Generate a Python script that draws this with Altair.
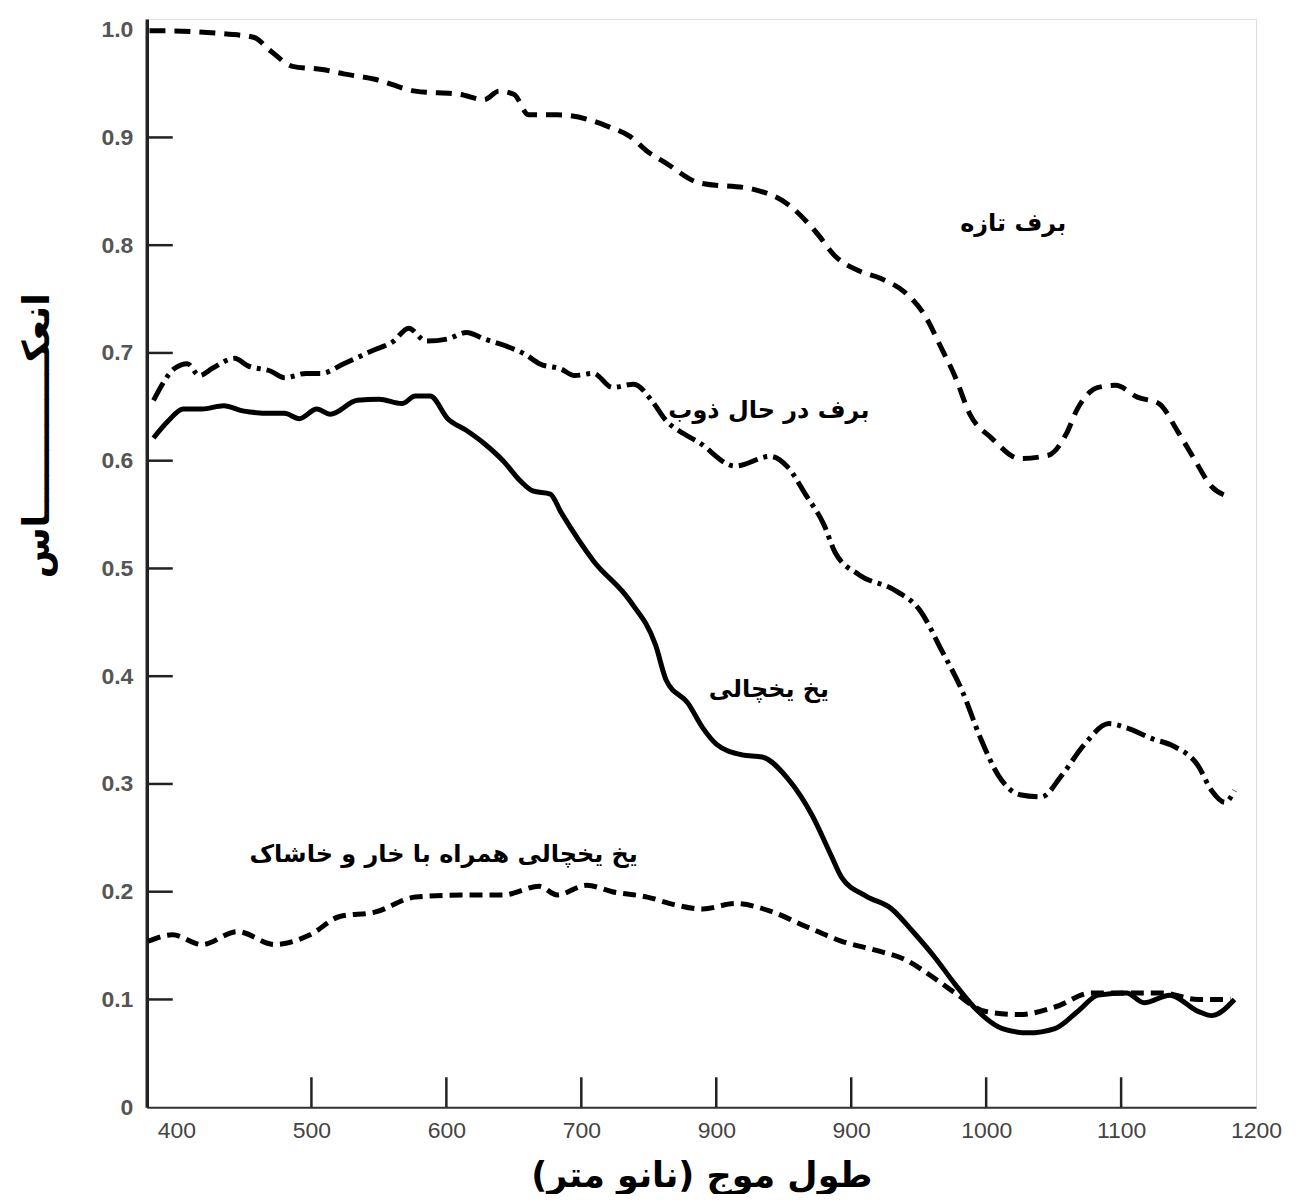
import altair as alt
import pandas as pd

# ---- data ----
fresh_nm = [380, 388, 437, 457, 470, 486, 508, 524, 547, 577, 610, 628, 639, 650, 661, 682, 704, 720, 736, 749,
            763, 787, 827, 853, 874, 888, 906, 922, 940, 954, 967, 977, 988, 1004, 1025, 1046, 1059, 1068, 1083, 1096,
            1112, 1128, 1142, 1154, 1167, 1179]
fresh_r = [0.999, 0.999, 0.996, 0.993, 0.98, 0.966, 0.963, 0.959, 0.954, 0.943, 0.94, 0.935, 0.943, 0.94, 0.921, 0.921, 0.917, 0.91, 0.901, 0.887,
           0.876, 0.858, 0.852, 0.838, 0.812, 0.790, 0.776, 0.769, 0.756, 0.736, 0.704, 0.678, 0.643, 0.621, 0.602, 0.605, 0.624, 0.649, 0.668, 0.670,
           0.659, 0.653, 0.627, 0.602, 0.576, 0.567]

melt_nm = [383, 399, 408, 417, 427, 443, 453, 470, 480, 496, 507, 524, 545, 561, 572, 585, 601, 615, 628, 647,
           658, 669, 685, 695, 709, 723, 739, 752, 763, 776, 787, 814, 840, 853, 866, 880, 888, 906, 932, 951,
           967, 982, 996, 1009, 1025, 1041, 1056, 1073, 1091, 1104, 1123, 1139, 1157, 1167, 1177, 1184]
melt_r = [0.656, 0.686, 0.690, 0.679, 0.686, 0.695, 0.688, 0.683, 0.677, 0.681, 0.681, 0.690, 0.702, 0.711, 0.723, 0.711, 0.713, 0.719, 0.713, 0.705,
          0.699, 0.690, 0.685, 0.679, 0.681, 0.668, 0.671, 0.656, 0.637, 0.625, 0.617, 0.595, 0.604, 0.594, 0.569, 0.540, 0.515, 0.494, 0.480, 0.461,
          0.424, 0.387, 0.342, 0.308, 0.290, 0.288, 0.308, 0.337, 0.356, 0.352, 0.342, 0.335, 0.317, 0.294, 0.283, 0.294]

ice_nm = [383, 394, 405, 419, 435, 450, 470, 480, 491, 504, 514, 534, 550, 567, 577, 588, 601, 615, 628, 642,
          655, 664, 677, 685, 709, 736, 755, 763, 779, 790, 800, 819, 834, 853, 871, 885, 893, 911, 930, 945,
          962, 977, 994, 1012, 1031, 1051, 1068, 1083, 1104, 1117, 1136, 1157, 1167, 1184]
ice_r = [0.621, 0.637, 0.648, 0.648, 0.651, 0.646, 0.644, 0.644, 0.639, 0.648, 0.643, 0.656, 0.657, 0.653, 0.660, 0.660, 0.639, 0.628, 0.616, 0.600,
         0.581, 0.572, 0.569, 0.552, 0.507, 0.470, 0.429, 0.396, 0.375, 0.352, 0.337, 0.327, 0.325, 0.305, 0.271, 0.234, 0.213, 0.196, 0.184, 0.164,
         0.139, 0.114, 0.089, 0.073, 0.069, 0.073, 0.089, 0.104, 0.106, 0.097, 0.104, 0.089, 0.085, 0.100]

dirty_nm = [379, 397, 419, 445, 473, 499, 521, 547, 577, 615, 642, 669, 682, 704, 723, 749, 769, 790, 814, 840,
            866, 893, 920, 940, 959, 977, 999, 1025, 1051, 1078, 1104, 1130, 1157, 1181]
dirty_r = [0.154, 0.160, 0.151, 0.163, 0.151, 0.160, 0.177, 0.181, 0.195, 0.197, 0.197, 0.205, 0.197, 0.206, 0.200, 0.195, 0.188, 0.184, 0.189, 0.182,
           0.168, 0.154, 0.145, 0.137, 0.122, 0.106, 0.089, 0.086, 0.093, 0.106, 0.106, 0.106, 0.100, 0.100]

labels_text = ["برف تازه", "برف در حال ذوب", "یخ یخچالی", "یخ یخچالی همراه با خار و خاشاک"]
labels_nm = [1020, 839, 839, 598]
labels_r = [0.820, 0.646, 0.387, 0.234]

x_ticks = [400, 500, 600, 700, 800, 900, 1000, 1100, 1200]
y_ticks = [0, 0.1, 0.2, 0.3, 0.4, 0.5, 0.6, 0.7, 0.8, 0.9, 1.0]
inner_x = [500, 600, 700, 800, 900, 1000, 1100]
inner_y = [0.1, 0.2, 0.3, 0.4, 0.5, 0.6, 0.7, 0.8, 0.9]

x_title = "طول موج (نانو متر)"
y_title = "انعکــــــــــــاس"

W, H = 1111, 1090

xs = alt.Scale(domain=[378, 1200], nice=False, zero=False)
ys = alt.Scale(domain=[0, 1.01], nice=False)

x_axis = alt.Axis(values=x_ticks, ticks=False, grid=False, labelPadding=12,
                  labelExpr="datum.value == 800 ? '900' : '' + datum.value",
                  labelFont="Liberation Sans Narrow, Liberation Sans", labelFontSize=23, labelColor="#444",
                  labelFlush=False,
                  domainColor="#333", domainWidth=2,
                  title=x_title, titleFont="DejaVu Sans", titleFontSize=35, titleFontWeight="bold",
                  titleColor="black", titleX=W / 2, titleY=68, titleBaseline="middle")
y_axis = alt.Axis(values=y_ticks, ticks=False, grid=False, labelPadding=14,
                  labelExpr="datum.value == 0 ? '0' : format(datum.value, '.1f')",
                  labelFont="Liberation Sans", labelFontSize=23, labelFontWeight="bold", labelColor="#555",
                  domainColor="#222", domainWidth=3.5,
                  title=y_title, titleFont="DejaVu Sans", titleFontSize=37, titleFontWeight="bold",
                  titleColor="black", titleX=-109, titleY=417, titleAngle=-90, titleBaseline="middle")


def line(nm, r, dash, width=5):
    df = pd.DataFrame({"nm": nm, "r": r})
    kw = dict(interpolate="monotone", color="black", strokeWidth=width)
    if dash:
        kw["strokeDash"] = dash
    return alt.Chart(df).mark_line(**kw).encode(
        x=alt.X("nm:Q", scale=xs, axis=x_axis),
        y=alt.Y("r:Q", scale=ys, axis=y_axis),
    )


fresh = line(fresh_nm, fresh_r, [16, 9])
melt = line(melt_nm, melt_r, [20, 6, 4, 6])
ice = line(ice_nm, ice_r, None, 5)
dirty = line(dirty_nm, dirty_r, [13, 7])

lab_df = pd.DataFrame({"t": labels_text, "nm": labels_nm, "r": labels_r})
labels = alt.Chart(lab_df).mark_text(font="DejaVu Sans", fontSize=24, fontWeight="bold",
                                     align="center", baseline="middle", color="black").encode(
    x=alt.X("nm:Q", scale=xs), y=alt.Y("r:Q", scale=ys), text="t:N")

ty = alt.Chart(pd.DataFrame({"v": inner_y})).mark_rule(color="#222", strokeWidth=2.5).encode(
    y=alt.Y("v:Q", scale=ys), x=alt.value(0), x2=alt.value(26))
tx = alt.Chart(pd.DataFrame({"v": inner_x})).mark_rule(color="#222", strokeWidth=2.5).encode(
    x=alt.X("v:Q", scale=xs), y=alt.value(H), y2=alt.value(H - 30))

chart = alt.layer(ty, tx, fresh, melt, ice, dirty, labels).properties(
    width=W, height=H,
    autosize=alt.AutoSizeParams(type="none"),
    padding={"left": 139, "top": 10, "right": 40, "bottom": 86},
).configure_view(stroke="#222", strokeWidth=2.5).configure(background="white")

chart.save("out.html", embed_options={"renderer": "svg", "actions": False})
